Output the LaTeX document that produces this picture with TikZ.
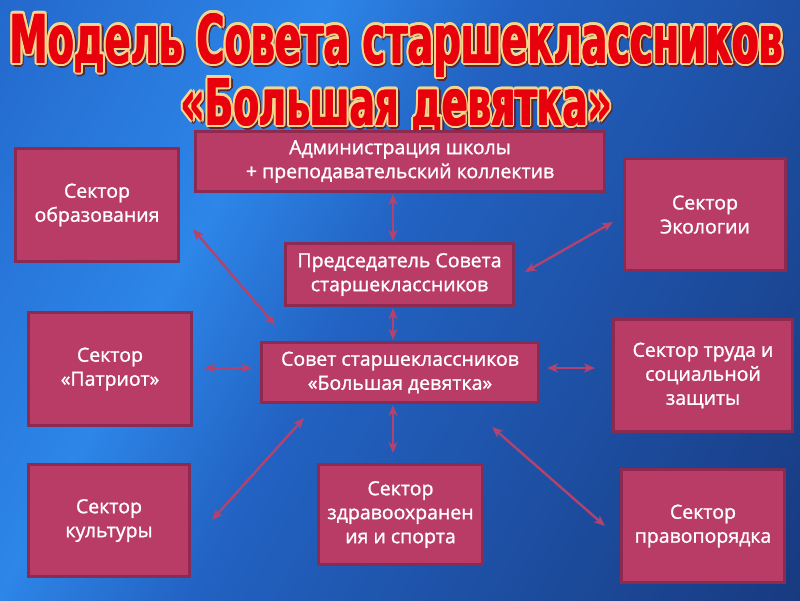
\documentclass[tikz,border=0pt]{standalone}
\usepackage{fontspec}
\setmainfont{Open Sans}
\newfontfamily\boxfont{Open Sans}[FakeBold=1.2]
\newfontfamily\titlefont{DejaVu Sans}
\usetikzlibrary{arrows.meta,calc}
\definecolor{boxfill}{HTML}{B93C66}
\definecolor{boxline}{HTML}{8C2A52}
\definecolor{arrowc}{HTML}{B2436F}
\definecolor{bgA}{HTML}{2468CC}
\definecolor{bgB}{HTML}{2D86E8}
\definecolor{bgC}{HTML}{2262C2}
\definecolor{bgD}{HTML}{183A80}
\definecolor{ttred}{HTML}{E8000C}
\definecolor{ttcream}{HTML}{F4D68E}
\definecolor{ttshadow}{HTML}{5A2630}
\pgfdeclarehorizontalshading{bgsh}{100bp}{color(0bp)=(bgA); color(25bp)=(bgA); color(39.5bp)=(bgB); color(48bp)=(bgC); color(75bp)=(bgD); color(100bp)=(bgD)}
\newcommand\ttlayer[2]{%
  \foreach \dx/\dy in {2.4/0,2.1/1.2,1.2/2.1,0/2.4,-1.2/2.1,-2.1/1.2,-2.4/0,-2.1/-1.2,-1.2/-2.1,0/-2.4,1.2/-2.1,2.1/-1.2}{\rlap{\hspace*{\dx pt}\raisebox{\dy pt}{\color{#1}#2}}}}
\newcommand\ttext[3]{%
  \def\tmpbox{\resizebox{#1}{#2}{\titlefont\bfseries #3}}%
  \rlap{\hspace*{1.6pt}\raisebox{-1.6pt}{\ttlayer{ttshadow}{\tmpbox}}}%
  \ttlayer{ttcream}{\tmpbox}%
  \rlap{\hspace*{0.6pt}\color{ttred}\tmpbox}%
  \rlap{\hspace*{-0.6pt}\color{ttred}\tmpbox}%
  {\color{ttred}\tmpbox}}
\tikzset{
  sector/.style={draw=boxline, line width=3pt, fill=boxfill, text=white, align=center, inner sep=2pt, font=\boxfont\fontsize{19.5}{24}\selectfont},
  arr/.style={draw=arrowc, line width=2.4pt, {Stealth[length=11pt,width=9pt,inset=3pt]}-{Stealth[length=11pt,width=9pt,inset=3pt]}}
}
\begin{document}
\begin{tikzpicture}[x=1pt,y=-1pt]
\useasboundingbox (0,0) rectangle (800,600);
\begin{scope}
\clip (0,0) rectangle (800,600);
\begin{scope}[transform canvas={rotate=-29}]
\shade[shading=bgsh] (0,-800) rectangle (991,800);
\end{scope}
\end{scope}
% title
\node[anchor=base, inner sep=0] (title1) at (396.5,63) {\ttext{773pt}{50pt}{Модель Совета старшеклассников}};
\node[anchor=base, inner sep=0] (title2) at (396.5,125) {\ttext{431pt}{47pt}{«Большая девятка»}};
% boxes
\node[sector, minimum width=409pt, minimum height=60pt] (admin) at (400,161.5) {Администрация школы\\+ преподавательский коллектив};
\node[sector, minimum width=228pt, minimum height=62pt] (chair) at (399.5,274.5) {Председатель Совета\\старшеклассников};
\node[sector, minimum width=277pt, minimum height=60pt] (council) at (400,372.5) {Совет старшеклассников\\«Большая девятка»};
\node[sector, minimum width=163pt, minimum height=113pt] (obraz) at (97,205) {Сектор\\образования};
\node[sector, minimum width=163pt, minimum height=113pt] (patriot) at (110,369) {Сектор\\«Патриот»};
\node[sector, minimum width=161pt, minimum height=112pt] (kult) at (109,520.5) {Сектор\\культуры};
\node[sector, minimum width=164pt, minimum height=100pt] (zdrav) at (400.5,514.5) {Сектор\\здравоохранен\\ия и спорта};
\node[sector, minimum width=161pt, minimum height=112pt] (eco) at (705,214.5) {Сектор\\Экологии};
\node[sector, minimum width=179pt, minimum height=112pt] (trud) at (703,375.5) {Сектор труда и\\социальной\\защиты};
\node[sector, minimum width=163pt, minimum height=113pt] (pravo) at (703,526) {Сектор\\правопорядка};
% arrows
\draw[arr] ($(admin.south)+(-7,1)$) -- ($(chair.north)+(-6.5,-1)$);
\draw[arr] ($(chair.south)+(-6.5,1)$) -- ($(council.north)+(-7,-1)$);
\draw[arr] ($(council.south)+(-7,1)$) -- ($(zdrav.north)+(-7.5,-10)$);
\draw[arr] ($(patriot.east)+(11,-1)$) -- ($(council.west)+(-8,-4.5)$);
\draw[arr] ($(council.east)+(7,-4.5)$) -- ($(trud.west)+(-17,-7.5)$);
\draw[arr] ($(obraz.east)+(13,24)$) -- ($(council.north west)+(15,-16)$);
\draw[arr] ($(chair.east)+(10,-2.5)$) -- ($(eco.west)+(-10,7.5)$);
\draw[arr] ($(kult.east)+(21,-0.5)$) -- ($(council.south west)+(44,14)$);
\draw[arr] ($(council.south east)+(-48,23)$) -- ($(pravo.west)+(-15,0)$);
\end{tikzpicture}
\end{document}
